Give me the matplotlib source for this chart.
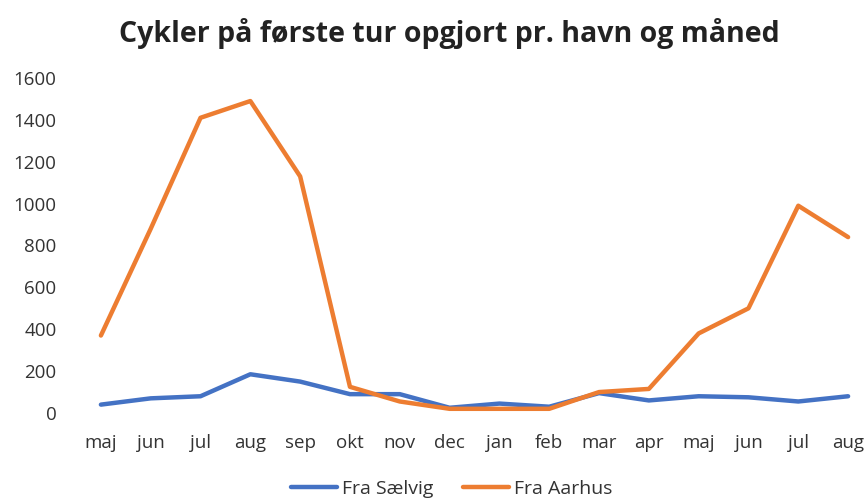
import matplotlib.pyplot as plt
import numpy as np

# data
months = ['maj', 'jun', 'jul', 'aug', 'sep', 'okt', 'nov', 'dec',
          'jan', 'feb', 'mar', 'apr', 'maj', 'jun', 'jul', 'aug']
saelvig = [40, 70, 80, 185, 150, 90, 90, 25, 45, 30, 95, 60, 80, 75, 55, 80]
aarhus = [370, 880, 1410, 1490, 1130, 125, 55, 20, 20, 20, 100, 115, 380, 500, 990, 840]

plt.rcParams['font.family'] = ['Open Sans', 'DejaVu Sans']

fig = plt.figure(figsize=(8.65, 5.04), dpi=100)
ax = fig.add_axes([76/865, 91/504, 797/865, 335/504])

x = np.arange(len(months))
ax.plot(x, saelvig, color='#4472C4', lw=3.2, solid_capstyle='round', label='Fra Sælvig', clip_on=False)
ax.plot(x, aarhus, color='#ED7D31', lw=3.2, solid_capstyle='round', label='Fra Aarhus', clip_on=False)

ax.set_xlim(-0.5, len(months) - 0.5)
ax.set_ylim(0, 1600)
ax.set_yticks(range(0, 1601, 200))
ax.set_xticks(x)
ax.set_xticklabels(months)
for s in ax.spines.values():
    s.set_visible(False)
ax.tick_params(length=0, labelsize=13.5, colors='#333333')
ax.tick_params(axis='x', pad=15)
ax.tick_params(axis='y', pad=14)

fig.text(0.52, 0.933, 'Cykler på første tur opgjort pr. havn og måned',
         ha='center', va='center', fontsize=20.5, fontweight='bold', color='#222222')

# legend sits at the bottom edge like in the reference
fig.legend(loc='center', bbox_to_anchor=(0.522, 0.03), ncol=2, frameon=False,
           fontsize=14, handlelength=2.4, handletextpad=0.25, columnspacing=1.5,
           labelcolor='#333333')

fig.savefig('out.png', dpi=100)
